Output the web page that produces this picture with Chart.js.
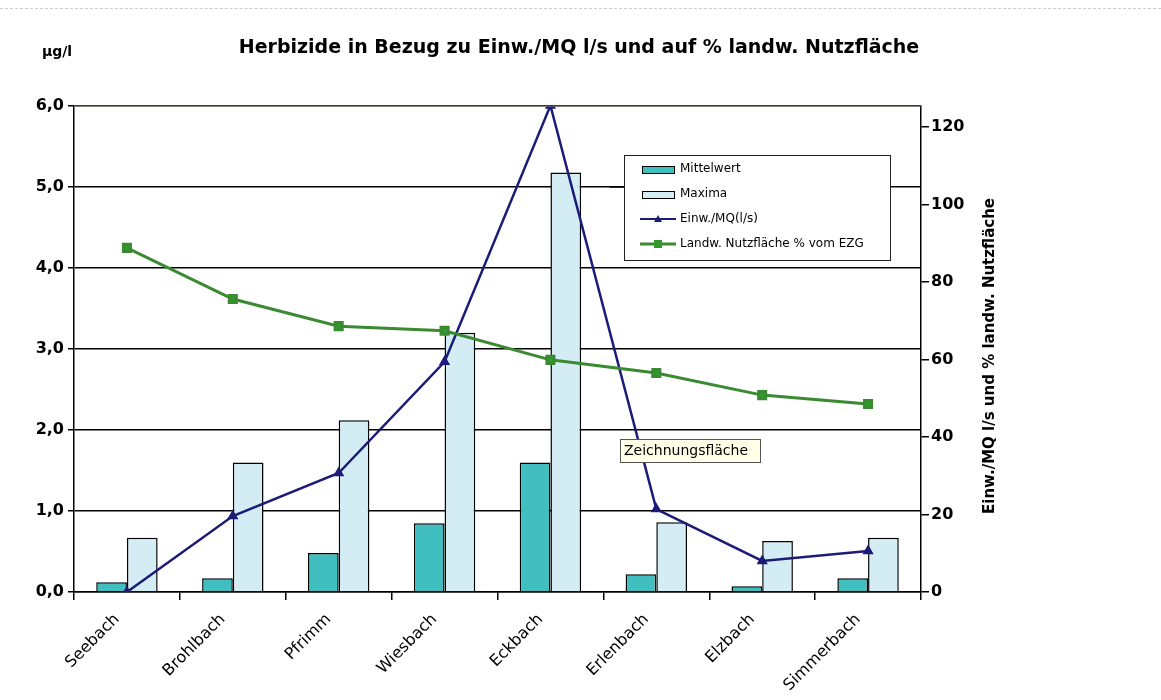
<!DOCTYPE html>
<html>
<head>
<meta charset="utf-8">
<script src="https://cdn.jsdelivr.net/npm/chart.js@4"></script>
<style>
body{margin:0;background:#fff;}
#wrap{width:1161px;height:700px;position:relative;}
#wrap:before{content:"";position:absolute;left:0;right:0;top:8px;border-top:1px dashed #ccc;}
</style>
</head>
<body>
<div id="wrap"><canvas id="chart" width="1161" height="700"></canvas></div>
<script>
// data
const bäche = ["Seebach","Brohlbach","Pfrimm","Wiesbach","Eckbach","Erlenbach","Elzbach","Simmerbach"];
const mittelwert = [0.12,0.17,0.48,0.85,1.60,0.22,0.07,0.17];
const maxima = [0.67,1.60,2.12,3.20,5.18,0.86,0.63,0.67];
const einwMQ = [0,19.6,30.7,59.4,125.5,21.4,8.0,10.6];
const landwFlaeche = [88.8,75.6,68.6,67.4,59.9,56.5,50.8,48.5];
const leftTicks = [0,1,2,3,4,5,6];
const rightTicks = [0,20,40,60,80,100,120];

const FONT = "'DejaVu Sans', sans-serif";

/* extra text: title, unit, right title, legend box, note */
const extras = {
  id: "extras",
  afterDraw(chart) {
    const c = chart.ctx;
    const a = chart.chartArea;
    c.save();
    c.fillStyle = "#000";
    c.textBaseline = "middle";
    c.textAlign = "center";
    c.font = "bold 19px " + FONT;
    c.fillText("Herbizide in Bezug zu Einw./MQ l/s und auf % landw. Nutzfläche", 579, 48);
    c.font = "bold 14px " + FONT;
    c.fillText("µg/l", 57, 52);

    // top border
    c.strokeStyle = "#8a7a70";
    c.lineWidth = 1;
    c.beginPath(); c.moveTo(a.left, a.top); c.lineTo(a.right, a.top); c.stroke();

    // right axis title
    c.save();
    c.translate(990, 356);
    c.rotate(-Math.PI / 2);
    c.font = "bold 15px " + FONT;
    c.fillText("Einw./MQ l/s und % landw. Nutzfläche", 0, 0);
    c.restore();

    // legend box
    const lx = 624, ly = 155, lw = 266, lh = 105;
    c.fillStyle = "#fff";
    c.fillRect(lx, ly, lw, lh);
    c.strokeStyle = "#222";
    c.lineWidth = 1;
    c.strokeRect(lx + 0.5, ly + 0.5, lw, lh);
    c.beginPath(); c.moveTo(610, 187.5); c.lineTo(lx, 187.5); c.stroke();
    c.textAlign = "left";
    c.font = "12px " + FONT;
    const rows = [
      {t: "Mittelwert", kind: "bar", col: "#40bec0"},
      {t: "Maxima", kind: "bar", col: "#d4edf5"},
      {t: "Einw./MQ(l/s)", kind: "tri", col: "#1c1c78"},
      {t: "Landw. Nutzfläche % vom EZG", kind: "sq", col: "#3a8a32"}
    ];
    rows.forEach((r, i) => {
      const y = ly + 14 + i * 25;
      if (r.kind === "bar") {
        c.fillStyle = r.col;
        c.fillRect(lx + 18, y - 3, 32, 7);
        c.strokeStyle = "#000";
        c.strokeRect(lx + 18.5, y - 2.5, 32, 7);
      } else {
        c.strokeStyle = r.col;
        c.lineWidth = r.kind === "sq" ? 3 : 2;
        c.beginPath(); c.moveTo(lx + 16, y); c.lineTo(lx + 52, y); c.stroke();
        c.fillStyle = r.kind === "sq" ? "#2e9a2e" : r.col;
        if (r.kind === "sq") c.fillRect(lx + 30, y - 4, 8, 8);
        else { c.beginPath(); c.moveTo(lx + 34, y - 4); c.lineTo(lx + 38, y + 3); c.lineTo(lx + 30, y + 3); c.fill(); }
        c.lineWidth = 1;
      }
      c.fillStyle = "#000";
      c.fillText(r.t, lx + 56, y);
    });

    // note box
    c.fillStyle = "#ffffe8";
    c.fillRect(620, 439, 140, 23);
    c.strokeStyle = "#555";
    c.strokeRect(620.5, 439.5, 140, 23);
    c.fillStyle = "#000";
    c.font = "14px " + FONT;
    c.fillText("Zeichnungsfläche", 624, 451);
    c.restore();
  }
};

new Chart(document.getElementById("chart").getContext("2d"), {
  type: "bar",
  data: {
    labels: bäche,
    datasets: [
      {
        label: "Mittelwert",
        data: mittelwert,
        backgroundColor: "#40bec0",
        borderColor: "#000",
        borderWidth: 1.5,
        yAxisID: "y",
        order: 2
      },
      {
        label: "Maxima",
        data: maxima,
        backgroundColor: "#d4edf5",
        borderColor: "#000",
        borderWidth: 1.5,
        yAxisID: "y",
        order: 2
      },
      {
        type: "line",
        label: "Einw./MQ(l/s)",
        data: einwMQ,
        borderColor: "#1c1c78",
        backgroundColor: "#1c1c78",
        borderWidth: 2.5,
        pointStyle: "triangle",
        pointRadius: 4,
        tension: 0,
        yAxisID: "y1",
        order: 1
      },
      {
        type: "line",
        label: "Landw. Nutzfläche % vom EZG",
        data: landwFlaeche,
        borderColor: "#3a8a32",
        backgroundColor: "#2e9a2e",
        borderWidth: 3,
        pointStyle: "rect",
        pointRadius: 5,
        tension: 0,
        yAxisID: "y1",
        order: 0
      }
    ]
  },
  options: {
    responsive: false,
    animation: false,
    layout: {padding: {top: 106, right: 140, left: 0, bottom: 0}},
    plugins: {
      legend: {display: false},
      tooltip: {enabled: false}
    },
    datasets: {bar: {categoryPercentage: 0.58, barPercentage: 1.0}},
    scales: {
      x: {
        offset: true,
        afterFit(s) { s.height = 108; },
        grid: {offset: true, drawOnChartArea: false, color: "#000", tickLength: 8, lineWidth: 1.5},
        border: {color: "#000", width: 1.5},
        ticks: {color: "#000", font: {family: FONT, size: 16}, maxRotation: 45, minRotation: 45, padding: 10, labelOffset: -10}
      },
      y: {
        position: "left",
        min: 0, max: 6,
        afterFit(s) { s.width = 74; },
        afterBuildTicks(s) { s.ticks = leftTicks.map(v => ({value: v})); },
        grid: {color: "#000", lineWidth: 1.5, tickLength: 6},
        border: {color: "#000", width: 1.5},
        ticks: {
          color: "#000",
          font: {family: FONT, size: 16, weight: "bold"},
          padding: 4,
          callback: v => v.toFixed(1).replace(".", ",")
        }
      },
      y1: {
        position: "right",
        min: 0, max: 125.4,
        afterFit(s) { s.width = 100; },
        afterBuildTicks(s) { s.ticks = rightTicks.map(v => ({value: v})); },
        grid: {drawOnChartArea: false, color: "#000", tickLength: 8, lineWidth: 1.5},
        border: {color: "#000", width: 1.5},
        ticks: {color: "#000", font: {family: FONT, size: 16, weight: "bold"}, padding: 2}
      }
    }
  },
  plugins: [extras]
});
</script>
</body>
</html>
